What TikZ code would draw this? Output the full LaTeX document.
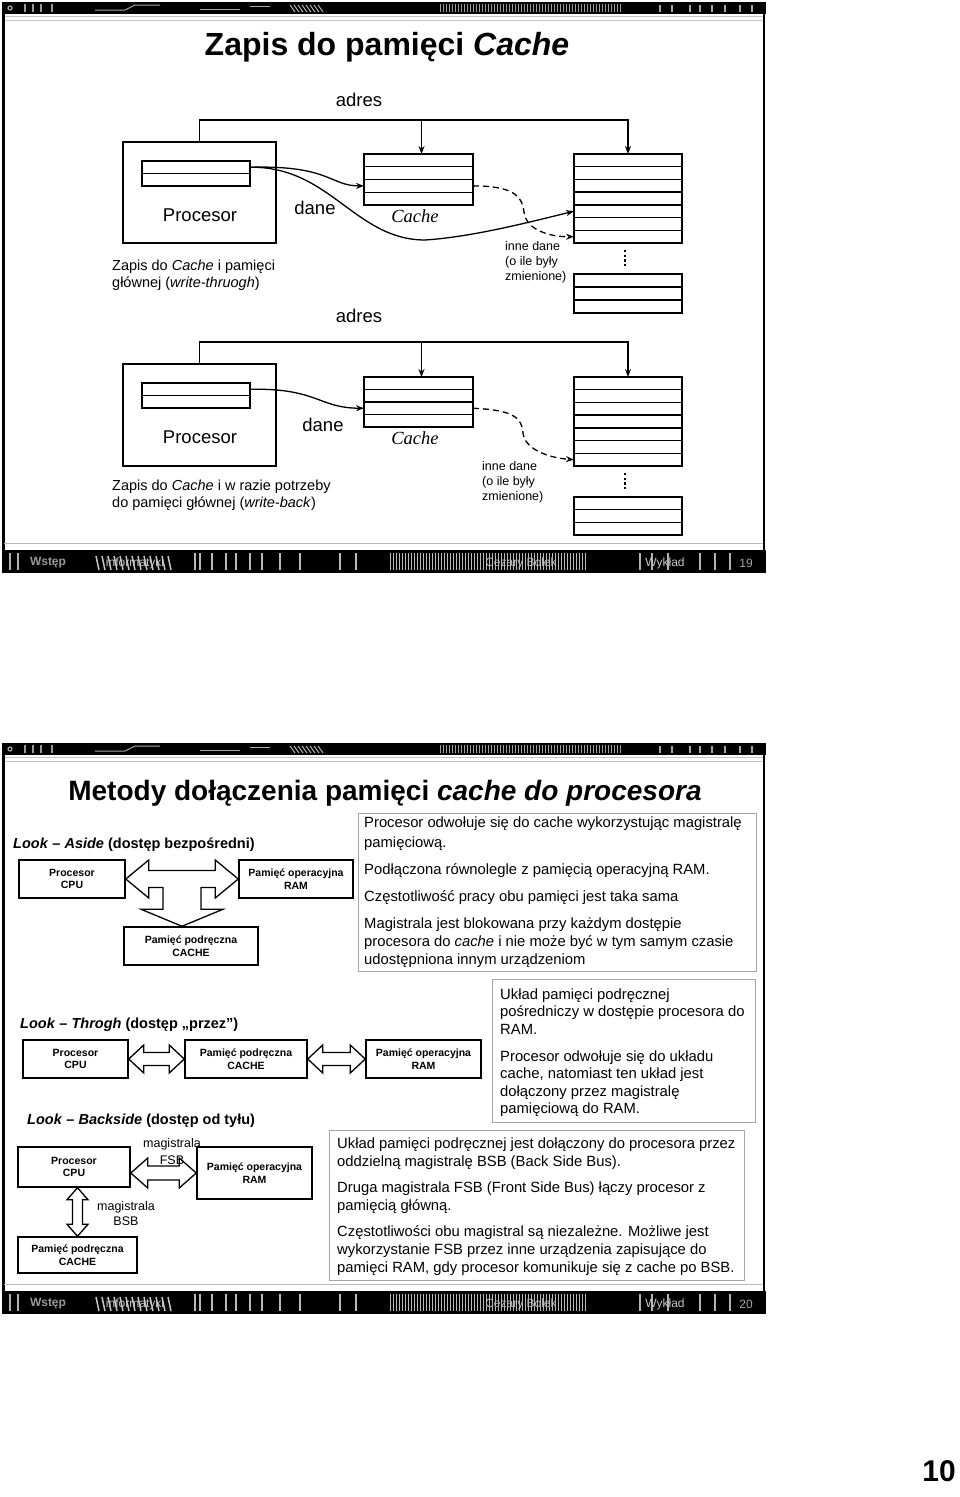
\documentclass[tikz,border=0pt]{standalone}
\usepackage{graphicx}
\usepackage{fontspec}
\setmainfont{Liberation Sans}
\newfontfamily\tnr{Liberation Serif}
\usetikzlibrary{calc,arrows.meta}
\newcommand\fsz[1]{\fontsize{#1}{#1}\selectfont}
\newcommand\rowbox[6]{%
  \node[cell, minimum width=#4pt, minimum height=#5pt, anchor=north west] (#1) at (#2,#3) {};
  \pgfmathtruncatemacro\nlast{#6-1}%
  \foreach \k in {1,...,\nlast}{\draw[line width=1.4pt] ($(#1.north west)!\k/#6!(#1.south west)$) -- ($(#1.north east)!\k/#6!(#1.south east)$);}%
}
\newcommand\hollowH[5]{%
  \draw[hollow] let \p1=(#1), \p2=(#2) in
  (\x1,\y2) -- (\x1+#3,\y2+#4) -- (\x1+#3,\y2+#5) -- (\x2-#3,\y2+#5) -- (\x2-#3,\y2+#4) -- (\x2,\y2)
  -- (\x2-#3,\y2-#4) -- (\x2-#3,\y2-#5) -- (\x1+#3,\y2-#5) -- (\x1+#3,\y2-#4) -- cycle;}
\newcommand\hollowV[5]{%
  \draw[hollow] let \p1=(#1), \p2=(#2) in
  (\x2,\y1) -- (\x2+#4,\y1-#3) -- (\x2+#5,\y1-#3) -- (\x2+#5,\y2+#3) -- (\x2+#4,\y2+#3) -- (\x2,\y2)
  -- (\x2-#4,\y2+#3) -- (\x2-#5,\y2+#3) -- (\x2-#5,\y1-#3) -- (\x2-#4,\y1-#3) -- cycle;}
\newcommand\slideframe[2]{%
  \begin{scope}[yshift=-#1pt]
    \fill[black] (2,2) rectangle (766,14);
    \foreach \xx in {440,443,...,620} \draw[gray!75, line width=1pt] (\xx,4) -- (\xx,12);
    \foreach \xx in {290,294,...,320} \draw[gray!60, line width=1pt] (\xx,5) -- (\xx+5,12);
    \draw[gray!70, line width=1pt] (95,10) -- (125,10) -- (135,5) -- (160,5);
    \draw[gray!70, line width=1pt] (200,9) -- (240,9) (250,6) -- (270,6);
    \draw[gray!70, line width=1.2pt] (10,8) circle (2);
    \foreach \xx in {25,33,41,52} \draw[gray!80, line width=2pt] (\xx,4) -- (\xx,12);
    \foreach \xx in {660,672,690,700,712,725,740,752} \draw[gray!70, line width=2pt] (\xx,5) -- (\xx,12);
    \draw[gray!45, line width=1.2pt] (4,16.5) -- (764,16.5);
    \draw[gray!45, line width=1.2pt] (4,20.5) -- (764,20.5);
    \draw[line width=2.2pt] (3.5,2) -- (3.5,572);
    \draw[line width=2.2pt] (764,2) -- (764,572);
    \draw[gray!55, line width=1pt] (4,543) -- (763,543);
    \fill[black] (2,550) rectangle (766,573);
    \foreach \xx in {390,393,...,585} \draw[gray!55, line width=1pt] (\xx,553) -- (\xx,570);
    \foreach \xx in {96,102,...,170} \draw[gray!45, line width=1.5pt] (\xx,556) -- (\xx+3,570);
    \foreach \xx in {195,200,212,226,236,250,262,280,300,340,356} \draw[gray!55, line width=2pt] (\xx,553) -- (\xx,570);
    \foreach \xx in {10,18,640,652,668,700,715,730} \draw[gray!60, line width=2.5pt] (\xx,553) -- (\xx,570);
    \node[text=gray!80, font=\bfseries\fsz{12}, inner sep=0] at (48,563) {Wstęp};
    \node[text=gray!45, font=\fsz{12}, inner sep=0] at (135,563) {informatyki};
    \node[text=gray!55, font=\fsz{12}, inner sep=0] at (521,563) {Cezary Bolek};
    \node[text=gray!45, font=\fsz{12}, inner sep=0] at (665,563) {Wykład};
    \node[text=gray!70, font=\fsz{12}, inner sep=0] at (746,563) {#2};
  \end{scope}}
\begin{document}
\begin{tikzpicture}[x=1pt,y=-1pt,
  cell/.style={draw, line width=1.4pt, inner sep=0pt, outer sep=0pt},
  wire/.style={line width=1.3pt},
  conn/.style={line width=1.3pt, -{Stealth[length=8pt,width=6pt]}},
  dconn/.style={conn, dash pattern=on 6pt off 4pt},
  blk/.style={draw, line width=1.5pt, fill=white, align=center, inner sep=0pt, font=\bfseries\fontsize{10.5}{12.5}\selectfont},
  infobox/.style={draw=black!35, line width=0.9pt, inner sep=0pt, outer sep=0pt},
  body/.style={anchor=base west, inner sep=0pt, font=\fsz{14.8}},
  hollow/.style={draw, line width=1.3pt, fill=white, line join=miter},
  sect/.style={anchor=west, inner sep=0pt, font=\bfseries\fsz{14.5}},
  lbl/.style={inner sep=0pt, font=\fsz{18.5}},
  note/.style={anchor=north west, align=left, inner sep=0pt, font=\fontsize{14.5}{17.5}\selectfont},
  small/.style={anchor=north west, align=left, inner sep=0pt, font=\fontsize{12.5}{15}\selectfont},
  ]
\fill[white] (0,0) rectangle (960,1497);
\useasboundingbox (0,0) rectangle (960,1497);

% ================= SLIDE 1 =================
\slideframe{0}{19}
\node[font=\bfseries\fsz{32}, inner sep=0] (title1) at (387,47) {Zapis do pamięci \textit{Cache}};

% ---- diagram 1 (write-through)
\node[lbl] (adres1) at (359,100) {adres};
\node[cell, line width=1.5pt, minimum width=153pt, minimum height=101pt, anchor=north west] (proc1) at (123,142) {};
\rowbox{reg1}{142}{161}{108}{25}{2}
\rowbox{cache1}{364}{154}{109}{51}{4}
\rowbox{mem1}{574}{154}{108}{89}{7}
\rowbox{membot1}{574}{274}{108}{39}{3}
\draw[line width=2.4pt, dash pattern=on 2.4pt off 2.2pt] (625,250) -- (625,267);
\coordinate (bus1) at (0,120);
\coordinate (c1top) at ($(cache1.north)+(3,0)$);
\draw[conn] (proc1.north) |- (mem1.north |- bus1) -- (mem1.north);
\draw[conn] (c1top |- bus1) -- (c1top);
\coordinate (r1out) at ($(reg1.north east)!0.25!(reg1.south east)$);
\coordinate (c1in) at ($(cache1.north west)!0.625!(cache1.south west)$);
\coordinate (c1out) at ($(cache1.north east)!0.625!(cache1.south east)$);
\coordinate (m1a) at ($(mem1.north west)!9/14!(mem1.south west)$);
\coordinate (m1b) at ($(mem1.north west)!13/14!(mem1.south west)$);
\draw[conn] (r1out) .. controls (330,165) and (330,186) .. (c1in);
\draw[conn] (r1out) .. controls (330,166) and (355,240) .. (425,240) .. controls (472,237) and (530,222) .. (m1a);
\draw[dconn] (c1out) .. controls (512,186) and (522,195) .. (524,212) .. controls (526,230) and (550,237) .. (m1b);
\node[lbl] (proc1lbl) at (200,215) {Procesor};
\node[lbl] (dane1) at (315,208) {dane};
\node[lbl, font=\tnr\itshape\fsz{18.5}] (cache1lbl) at (415,216) {Cache};
\node[small] (inne1) at (505,241) {inne dane\\(o ile były\\zmienione)};
\node[note] (wt) at (112,259.5) {Zapis do \textit{Cache} i pamięci\\głównej (\textit{write-thruogh})};

% ---- diagram 2 (write-back)
\node[lbl] (adres2) at (359,316) {adres};
\node[cell, line width=1.5pt, minimum width=153pt, minimum height=102pt, anchor=north west] (proc2) at (123,364) {};
\rowbox{reg2}{142}{383}{108}{25}{2}
\rowbox{cache2}{364}{377}{109}{50}{4}
\rowbox{mem2}{574}{377}{108}{89}{7}
\rowbox{membot2}{574}{497}{108}{38}{3}
\draw[line width=2.4pt, dash pattern=on 2.4pt off 2.2pt] (625,473) -- (625,490);
\coordinate (bus2) at (0,342);
\coordinate (c2top) at ($(cache2.north)+(3,0)$);
\draw[conn] (proc2.north) |- (mem2.north |- bus2) -- (mem2.north);
\draw[conn] (c2top |- bus2) -- (c2top);
\coordinate (r2out) at ($(reg2.north east)!0.25!(reg2.south east)$);
\coordinate (c2in) at ($(cache2.north west)!0.625!(cache2.south west)$);
\coordinate (c2out) at ($(cache2.north east)!0.625!(cache2.south east)$);
\coordinate (m2b) at ($(mem2.north west)!13/14!(mem2.south west)$);
\draw[conn] (r2out) .. controls (318,388) and (318,408) .. (c2in);
\draw[dconn] (c2out) .. controls (514,410) and (522,418) .. (523,433) .. controls (525,450) and (550,458) .. (m2b);
\node[lbl] (proc2lbl) at (200,437) {Procesor};
\node[lbl] (dane2) at (323,425) {dane};
\node[lbl, font=\tnr\itshape\fsz{18.5}] (cache2lbl) at (415,438) {Cache};
\node[small] (inne2) at (482,461) {inne dane\\(o ile były\\zmienione)};
\node[note] (wb) at (112,479.5) {Zapis do \textit{Cache} i w razie potrzeby\\do pamięci głównej (\textit{write-back})};

% ================= SLIDE 2 =================
\slideframe{741}{20}
\node[font=\bfseries\fsz{28}, inner sep=0] (title2) at (385,793) {Metody dołączenia pamięci \textit{cache do procesora}};

% ---- Look-Aside
\node[sect] (la) at (13,845) {\textit{Look} – \textit{Aside} (dostęp bezpośredni)};
\node[blk, minimum width=106pt, minimum height=38pt] (cpuA) at (72,879) {Procesor\\CPU};
\node[blk, minimum width=114pt, minimum height=38pt] (ramA) at (296,879) {Pamięć operacyjna\\RAM};
\node[blk, minimum width=134pt, minimum height=38pt] (cacheA) at (191,946) {Pamięć podręczna\\CACHE};
\coordinate (tipA) at ($(cacheA.north)+(-9,0)$);
\draw[hollow] let \p1=(cpuA.east), \p2=(ramA.west), \p3=(tipA) in
  (\x1,\y1) -- (\x1+23pt,\y1+19pt) -- (\x1+23pt,\y1+8.5pt) -- (\x2-23pt,\y1+8.5pt) -- (\x2-23pt,\y1+19pt) -- (\x2,\y1)
  -- (\x2-23pt,\y1-19pt) -- (\x2-23pt,\y1-8.5pt) -- (\x3+19pt,\y1-8.5pt) -- (\x3+19pt,\y3+17pt) -- (\x3+41pt,\y3+17pt)
  -- (\x3,\y3) -- (\x3-41pt,\y3+17pt) -- (\x3-19pt,\y3+17pt) -- (\x3-19pt,\y1-8.5pt) -- (\x1+23pt,\y1-8.5pt)
  -- (\x1+23pt,\y1-19pt) -- cycle;
\node[infobox, minimum width=398pt, minimum height=158pt, anchor=north west] (infoA) at (358,813) {};
\node[body] (a1) at (364,827) {Procesor odwołuje się do cache wykorzystując magistralę};
\node[body] (a2) at (364,847) {pamięciową.};
\node[body] (a3) at (364,874) {Podłączona równolegle z pamięcią operacyjną RAM.};
\node[body] (a4) at (364,901) {Częstotliwość pracy obu pamięci jest taka sama};
\node[body] (a5) at (364,928) {Magistrala jest blokowana przy każdym dostępie};
\node[body] (a6) at (364,946) {procesora do \textit{cache} i nie może być w tym samym czasie};
\node[body] (a7) at (364,964) {udostępniona innym urządzeniom};

% ---- Look-Through
\node[sect] (lt) at (20,1025) {\textit{Look} – \textit{Throgh} (dostęp „przez”)};
\node[blk, minimum width=105pt, minimum height=38pt] (cpuT) at (75.5,1059) {Procesor\\CPU};
\node[blk, minimum width=122pt, minimum height=38pt] (cacheT) at (246,1059) {Pamięć podręczna\\CACHE};
\node[blk, minimum width=115pt, minimum height=38pt] (ramT) at (423.5,1059) {Pamięć operacyjna\\RAM};
\hollowH{cpuT.east}{cacheT.west}{15pt}{14pt}{6.5pt}
\hollowH{cacheT.east}{ramT.west}{15pt}{14pt}{6.5pt}
\node[infobox, minimum width=263pt, minimum height=143pt, anchor=north west] (infoT) at (492,979) {};
\node[body] (t1) at (500,999) {Układ pamięci podręcznej};
\node[body] (t2) at (500,1016) {pośredniczy w dostępie procesora do};
\node[body] (t3) at (500,1034) {RAM.};
\node[body] (t4) at (500,1061) {Procesor odwołuje się do układu};
\node[body] (t5) at (500,1078) {cache, natomiast ten układ jest};
\node[body] (t6) at (500,1096) {dołączony przez magistralę};
\node[body] (t7) at (500,1113) {pamięciową do RAM.};

% ---- Look-Backside
\node[sect] (lb) at (27,1121) {\textit{Look} – \textit{Backside} (dostęp od tyłu)};
\node[blk, minimum width=112pt, minimum height=40pt] (cpuB) at (74,1167) {Procesor\\CPU};
\node[blk, minimum width=115pt, minimum height=52pt] (ramB) at (254.5,1173) {Pamięć operacyjna\\RAM};
\node[blk, minimum width=119pt, minimum height=36pt] (cacheB) at (77.5,1255) {Pamięć podręczna\\CACHE};
\node[inner sep=0pt, font=\fsz{12.5}] (fsb1) at (172,1144) {magistrala};
\hollowH{cpuB.east}{ramB.west}{17pt}{15pt}{7pt}
\node[inner sep=0pt, font=\fsz{12.5}] (fsb2) at (172,1160) {FSB};
\hollowV{cpuB.south}{cacheB.north}{12pt}{10.5pt}{5pt}
\node[inner sep=0pt, font=\fontsize{12.5}{15}\selectfont, align=center] (bsb) at (126,1214) {magistrala\\BSB};
\node[infobox, minimum width=415pt, minimum height=150pt, anchor=north west] (infoB) at (329,1130) {};
\node[body] (b1) at (337,1148) {Układ pamięci podręcznej jest dołączony do procesora przez};
\node[body] (b2) at (337,1166) {oddzielną magistralę BSB (Back Side Bus).};
\node[body] (b3) at (337,1192) {Druga magistrala FSB (Front Side Bus) łączy procesor z};
\node[body] (b4) at (337,1210) {pamięcią główną.};
\node[body] (b5) at (337,1236) {Częstotliwości obu magistral są niezależne. Możliwe jest};
\node[body] (b6) at (337,1254) {wykorzystanie FSB przez inne urządzenia zapisujące do};
\node[body] (b7) at (337,1272) {pamięci RAM, gdy procesor komunikuje się z cache po BSB.};

% page number
\node[font=\bfseries\fsz{30}, inner sep=0] (pagenum) at (939,1471) {10};
\end{tikzpicture}
\end{document}
